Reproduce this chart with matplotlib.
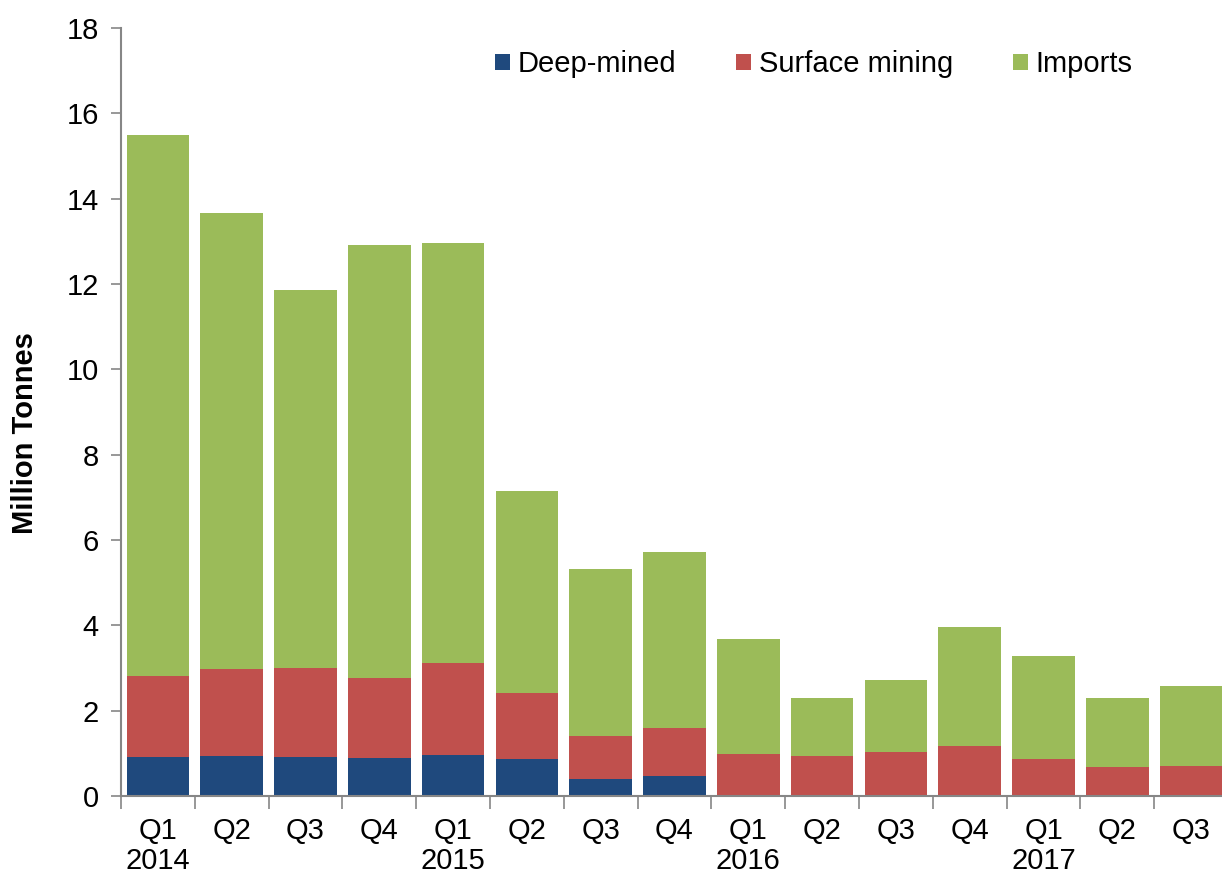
import matplotlib
matplotlib.use("Agg")
import matplotlib.pyplot as plt
import numpy as np

plt.rcParams['font.family'] = ['Liberation Sans', 'DejaVu Sans']

quarters = ["Q1", "Q2", "Q3", "Q4", "Q1", "Q2", "Q3", "Q4", "Q1", "Q2", "Q3", "Q4", "Q1", "Q2", "Q3"]
years = ["2014", "", "", "", "2015", "", "", "", "2016", "", "", "", "2017", "", ""]
deep_mined = [0.92, 0.93, 0.91, 0.88, 0.97, 0.86, 0.41, 0.48, 0, 0, 0, 0, 0, 0, 0]
surface_top = [2.82, 2.98, 3.01, 2.76, 3.11, 2.42, 1.41, 1.60, 0.98, 0.94, 1.02, 1.17, 0.875, 0.69, 0.71]
totals = [15.50, 13.67, 11.86, 12.92, 12.97, 7.15, 5.32, 5.72, 3.67, 2.30, 2.71, 3.96, 3.29, 2.30, 2.57]

surface = [s - d for s, d in zip(surface_top, deep_mined)]
imports = [t - s for t, s in zip(totals, surface_top)]

c_deep = "#1F497D"
c_surf = "#C0504D"
c_imp = "#9BBB59"
spine_c = "#868686"

FS = 21

fig = plt.figure(figsize=(12.22, 8.77), dpi=100)
ax = fig.add_axes([121/1222, 1-796/877, 1107/1222, (796-28)/877])

x = np.arange(len(quarters))
w = 0.85
ax.bar(x, deep_mined, w, color=c_deep, label="Deep-mined", edgecolor="none")
ax.bar(x, surface, w, bottom=deep_mined, color=c_surf, label="Surface mining", edgecolor="none")
ax.bar(x, imports, w, bottom=surface_top, color=c_imp, label="Imports", edgecolor="none")

ax.set_xlim(-0.5, len(quarters) - 0.5)
ax.set_ylim(0, 18)
ax.set_yticks(np.arange(0, 19, 2))
ax.tick_params(axis='y', labelsize=FS, length=7, width=1.2, color=spine_c, pad=9)

ax.set_xticks(np.arange(-0.5, len(quarters), 1))
ax.set_xticklabels([])
ax.tick_params(axis='x', which='major', length=9, width=1.2, color=spine_c)
ax.set_xticks(x, minor=True)
ax.set_xticklabels([q + "\n" + y for q, y in zip(quarters, years)], minor=True, fontsize=FS,
                   linespacing=1.12, va='top')
ax.tick_params(axis='x', which='minor', length=0, pad=15)

for s in ['top', 'right']:
    ax.spines[s].set_visible(False)
for s in ['left', 'bottom']:
    ax.spines[s].set_color(spine_c)
    ax.spines[s].set_linewidth(1.5)

ax.set_ylabel("Million Tonnes", fontsize=FS, fontweight='bold', va='center', ha='center')
ax.yaxis.set_label_coords((25 - 121) / 1107, (796 - 433) / 768)

leg = fig.legend(loc='center left', bbox_to_anchor=(495/1222, 1 - 64/877), ncol=3, frameon=False,
                 fontsize=FS, handlelength=0.51, handleheight=0.48, handletextpad=0.27,
                 columnspacing=2.05, borderpad=0, borderaxespad=0)

fig.savefig("out.png", dpi=100)
